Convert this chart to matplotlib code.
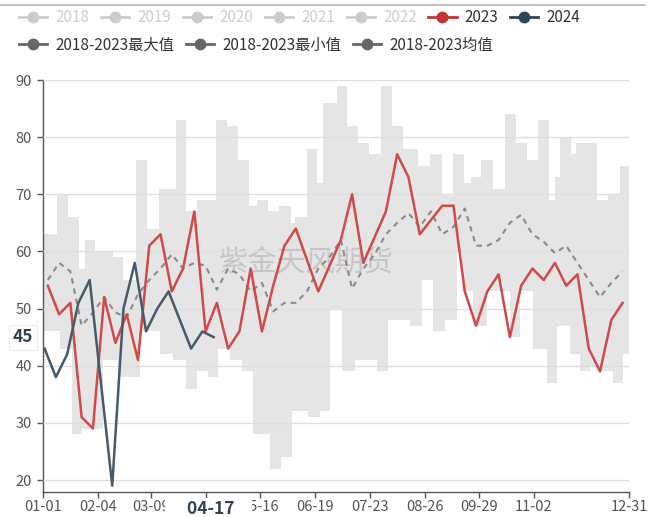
import numpy as np
import matplotlib
matplotlib.use("Agg")
import matplotlib.pyplot as plt
from matplotlib.lines import Line2D

plt.rcParams['font.family'] = ['Noto Sans CJK SC', 'DejaVu Sans']

# x axis = day of year (0 = 01-01, 364 = 12-31)
tick_days = [0, 34, 67, 101, 135, 169, 203, 237, 271, 305, 364]
tick_labels = ['01-01', '02-04', '03-09', '04-12', '05-16', '06-19',
               '07-23', '08-26', '09-29', '11-02', '12-31']

# weekly values
days_2023 = [3 + 7 * k for k in range(52)]
vals_2023 = [54, 49, 51, 31, 29, 52, 44, 49, 41, 61,
             63, 53, 57, 67, 46, 51, 43, 46, 57, 46,
             54, 61, 64, 58.5, 53, 57.5, 62, 70, 58, 62.5,
             67, 77, 73, 63, 65.5, 68, 68, 53, 47, 53,
             56, 45, 54, 57, 55, 58, 54, 56, 43, 39,
             48, 51]

days_2024 = [1 + 7 * k for k in range(16)]
vals_2024 = [43, 38, 42, 51, 55, 37, 19, 50, 58, 46, 50, 53, 48, 43, 46, 45]

vals_mean = [55, 58, 56.5, 47, 49.3, 52, 49.3, 48.5, 52.5, 55,
             57, 59.5, 57, 58, 57.5, 53.3, 57, 56, 53, 54.5,
             49.5, 51, 51, 53, 57, 59, 62, 53.5, 57, 59.5,
             63, 65, 66.7, 64.3, 67, 63, 64.3, 67.5, 61, 61,
             62, 65, 66.4, 63, 61.7, 59.7, 61, 58, 55, 52,
             54.5, 56.5]

# 2018-2023 max / min as steps (start day of each step, value)
max_start = [0, 8.5, 15.7, 22.5, 26.1, 32.3, 43.3, 49.9, 57.8, 64.8,
             72.2, 82.6, 88.6, 95.7, 107.5, 114.1, 121.3, 128.1, 132.7, 139.9,
             146.8, 153.9, 156.5, 163.8, 170.0, 174.1, 182.4, 188.6, 195.8, 202.7,
             209.8, 216.6, 223.4, 233.1, 240.4, 247.6, 254.8, 261.5, 265.7, 271.9,
             279.7, 287.0, 293.8, 300.4, 307.6, 314.5, 318.0, 321.1, 327.8, 331.1,
             344.3, 351.1, 358.4]
max_vals = [63, 70, 66, 57, 62, 60, 59, 55, 76, 64,
            71, 83, 67, 69, 83, 82, 76, 68, 69, 67,
            68, 65, 66, 78, 72, 86, 89, 82, 79, 77,
            89, 82, 78, 75, 77, 70, 77, 72, 73, 76,
            71, 84, 79, 76, 83, 69, 73, 80, 77, 79,
            69, 70, 75]

min_start = [0, 10.6, 17.8, 24.0, 31.2, 37.5, 46.8, 60.2, 72.7, 80.9,
             88.8, 95.5, 102.7, 108.9, 116.1, 123.4, 130.6, 140.9, 147.8, 154.7,
             164.6, 172.0, 178.3, 185.5, 193.8, 207.3, 214.5, 228.0, 235.2, 242.4,
             249.7, 257.0, 260.0, 267.3, 275.6, 290.0, 296.3, 304.5, 312.9, 319.1,
             327.3, 333.5, 339.8, 346.0, 354.2, 360.4]
min_vals = [46, 43, 28, 29, 29, 41, 38, 46, 42, 41,
            36, 39, 38, 43, 41, 39, 28, 22, 24, 32,
            31, 32, 50, 39, 41, 39, 48, 47, 55, 46,
            48, 60, 53, 47, 53, 45, 53, 43, 37, 47,
            42, 39, 40, 39, 37, 42]

year_names = ['2018', '2019', '2020', '2021', '2022', '2023', '2024']
year_colors = ['#cccccc'] * 5 + ['#c23531', '#2f4554']
band_names = ['2018-2023最大值', '2018-2023最小值', '2018-2023均值']

pointer_day = 106
pointer_label = '04-17'
pointer_value = 45

W, H = 659, 517
fig = plt.figure(figsize=(W / 100, H / 100), dpi=100)
ax = fig.add_axes([43 / W, 1 - 492 / H, (629 - 43) / W, (492 - 80) / H])

# band
edges = np.unique(np.r_[max_start, min_start, 364])
hi = np.array(max_vals)[np.searchsorted(max_start, edges, side='right') - 1]
lo = np.array(min_vals)[np.searchsorted(min_start, edges, side='right') - 1]
ax.fill_between(edges, lo, hi, step='post', color='#e5e5e5', lw=0, zorder=1)

ax.plot(days_2023, vals_mean, color='#8a8a8a', lw=1.5, dashes=(2.6, 2.4), zorder=3)
ax.plot(days_2023, vals_2023, color='#cf4a48', lw=1.8, zorder=4)
ax.plot(days_2024, vals_2024, color='#465a68', lw=1.8, zorder=5)

ax.text(0.449, 0.558, '紫金天风期货', transform=ax.transAxes, fontsize=21,
        color='#b8b8b8', alpha=0.7, ha='center', va='center', zorder=2.5)

ax.set_xlim(0, 364)
ax.set_ylim(17.9, 90)
ax.set_yticks(range(20, 91, 10))
ax.set_xticks(tick_days, tick_labels)
ax.grid(axis='y', color='#dedede', lw=0.9, zorder=1.5)
ax.set_axisbelow(False)
for s in ['top', 'right']:
    ax.spines[s].set_visible(False)
for s in ['left', 'bottom']:
    ax.spines[s].set_color('#555555')
    ax.spines[s].set_linewidth(1.0)
ax.tick_params(colors='#555555', labelcolor='#555555', labelsize=10.5, length=4.5, width=1)
ax.tick_params(axis='x', pad=1.5)

# axis pointer labels (white box hides the neighbouring tick labels, as in the source)
ax.annotate('     ' + pointer_label + '    ', xy=(pointer_day - 3, 0), xycoords=('data', 'axes fraction'),
            xytext=(0, -5.5), textcoords='offset points', ha='center', va='top',
            fontsize=12.5, fontweight='bold', color='#2f4554',
            bbox=dict(boxstyle='square,pad=0.1', fc='white', ec='none'), zorder=10,
            annotation_clip=False)
ax.annotate(str(pointer_value), xy=(0, pointer_value), xycoords=('axes fraction', 'data'),
            xytext=(-7, 0), textcoords='offset points', ha='right', va='center',
            fontsize=12.5, fontweight='bold', color='#2f4554',
            bbox=dict(boxstyle='square,pad=0.2', fc='white', ec='#eeeeee', lw=0.8), zorder=10,
            annotation_clip=False)

# top border
fig.add_artist(Line2D([0, 645 / W], [1 - 5 / H, 1 - 5 / H], color='#b5b5b5', lw=1.2))

# legends
fs = 11
h1 = [Line2D([], [], color=c, lw=2, marker='o', markersize=7.5) for c in year_colors]
leg1 = fig.legend(h1, year_names, loc='center left', bbox_to_anchor=(11 / W, 1 - 18 / H),
                  ncol=7, frameon=False, fontsize=fs, borderpad=0, handlelength=1.85,
                  handletextpad=0.55, columnspacing=0.75)
for t, c in zip(leg1.get_texts(), ['#cccccc'] * 5 + ['#333333'] * 2):
    t.set_color(c)
h2 = [Line2D([], [], color='#666666', lw=2, marker='o', markersize=7.5) for _ in band_names]
leg2 = fig.legend(h2, band_names, loc='center left', bbox_to_anchor=(11 / W, 1 - 45 / H),
                  ncol=3, frameon=False, fontsize=fs, borderpad=0, handlelength=1.85,
                  handletextpad=0.55, columnspacing=0.75)
for t in leg2.get_texts():
    t.set_color('#333333')

fig.savefig('out.png', dpi=100)
